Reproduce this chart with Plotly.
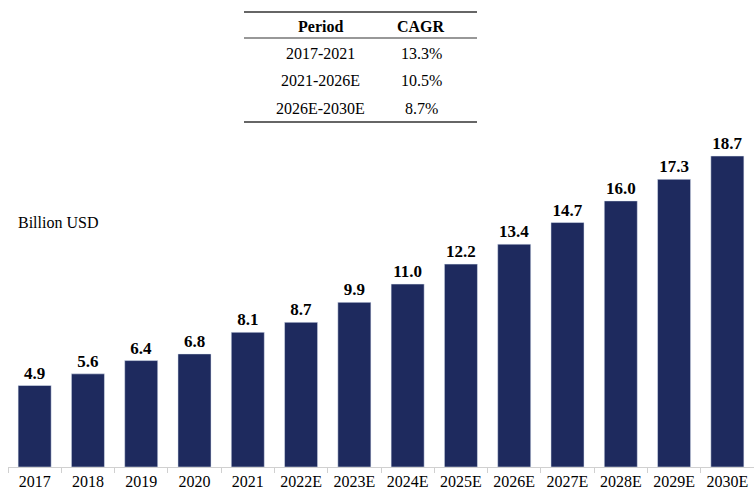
import plotly.graph_objects as go

years = ['2017', '2018', '2019', '2020', '2021', '2022E', '2023E', '2024E',
         '2025E', '2026E', '2027E', '2028E', '2029E', '2030E']
market_size = [4.9, 5.6, 6.4, 6.8, 8.1, 8.7, 9.9, 11.0, 12.2, 13.4, 14.7, 16.0, 17.3, 18.7]

table_header = ['Period', 'CAGR']
periods = ['2017-2021', '2021-2026E', '2026E-2030E']
cagr = ['13.3%', '10.5%', '8.7%']

W, H = 754, 491
L, R, T, B = 8, 0, 140, 24
PW, PH = W - L - R, H - T - B


def px_x(x):
    return (x - L) / PW


def px_y(y):
    return (H - B - y) / PH


font_family = "Liberation Serif, Times New Roman, serif"

fig = go.Figure(go.Bar(
    x=years,
    y=market_size,
    marker_color='#1e2a5e',
    width=0.62,
    texttemplate='<b>%{y:.1f}</b>',
    textposition='outside',
    textfont=dict(family=font_family, size=17, color='black'),
    cliponaxis=False,
    hoverinfo='skip',
))

# CAGR table drawn with annotations and rules
col_x = [px_x(320), px_x(421)]
row_y = [26, 54, 81, 108]
annotations = []
for j, h in enumerate(table_header):
    annotations.append(dict(x=col_x[j], y=px_y(row_y[0]), text=f'<b>{h}</b>',
                            showarrow=False, xref='paper', yref='paper', yanchor='middle',
                            font=dict(family=font_family, size=16, color='black')))
for i, (p, c) in enumerate(zip(periods, cagr)):
    for j, t in enumerate([p, c]):
        annotations.append(dict(x=col_x[j], y=px_y(row_y[i + 1]), text=t,
                                showarrow=False, xref='paper', yref='paper', yanchor='middle',
                                font=dict(family=font_family, size=16, color='black')))
annotations.append(dict(x=px_x(16), y=px_y(222), text='Billion USD', xanchor='left',
                        showarrow=False, xref='paper', yref='paper', yanchor='middle',
                        font=dict(family=font_family, size=16, color='black')))

shapes = []
for y, w in [(12, 1.6), (38, 1.2), (122, 1.6)]:
    shapes.append(dict(type='line', xref='paper', yref='paper',
                       x0=px_x(244), x1=px_x(477), y0=px_y(y), y1=px_y(y),
                       line=dict(color='#333333', width=w)))

fig.update_layout(
    width=W, height=H,
    margin=dict(l=L, r=R, t=T, b=B),
    plot_bgcolor='white', paper_bgcolor='white',
    showlegend=False,
    annotations=annotations,
    shapes=shapes,
    font=dict(family=font_family, size=16, color='black'),
    xaxis=dict(showline=True, linecolor='#d0d0d0', linewidth=1,
               ticks='outside', tickson='boundaries', ticklen=5, tickcolor='#d0d0d0',
               tickfont=dict(family=font_family, size=16, color='black'),
               showgrid=False),
    yaxis=dict(visible=False, range=[0, PH / 16.63], showgrid=False),
)

fig.write_html("out.html", config={'displayModeBar': False},
               post_script="document.body.style.margin='0';")
